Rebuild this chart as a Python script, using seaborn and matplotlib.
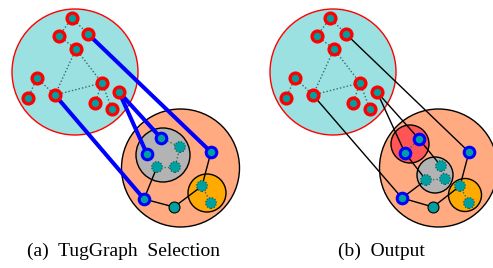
import numpy as np
import pandas as pd
import matplotlib
matplotlib.use("Agg")
import matplotlib.pyplot as plt
from matplotlib.patches import Circle
import seaborn as sns

# ---- data (pixel coordinates) ----
# query graph nodes (red rings), panel (a); panel (b) is the same graph shifted right
top_x = [72, 59, 88, 76, 37, 28, 55, 102, 119, 95, 112]
top_y = [18, 36, 34, 49, 78, 98, 95, 83, 92, 103, 109]
top_edges = [(0, 1), (0, 2), (1, 3), (3, 6), (3, 7), (6, 7), (4, 6), (4, 5), (7, 9), (7, 10)]
shift_b = 258

# lower graph, panel (a)
a_blue_x = [161, 147, 211, 144]
a_blue_y = [138, 154, 152, 199]
a_gray_x = [180, 157, 175]
a_gray_y = [147, 167, 167]
a_yel_x = [202, 211]
a_yel_y = [186, 203]
a_plain_x = [174]
a_plain_y = [207]

# lower graph, panel (b)
b_blue_x = [419, 405, 469, 402]
b_blue_y = [139, 153, 152, 198]
b_gray_x = [441, 426, 445]
b_gray_y = [166, 180, 179]
b_yel_x = [460, 469]
b_yel_y = [186, 203]
b_plain_x = [433]
b_plain_y = [207]

# links from query nodes to blue nodes: (top index, blue index)
links = [(2, 2), (6, 3), (8, 0), (8, 1)]

# group circles: (cx, cy, r, face, edge)
circles_a = [(75, 72, 63, "#9be1e1", "#ff0000"),
             (180.5, 168, 59, "#ffaa80", "black"),
             (163, 155, 27, "#b3b3b3", "black"),
             (207, 193, 19, "#ffaa00", "black")]
circles_b = [(333, 72, 63, "#9be1e1", "#ff0000"),
             (438.5, 168, 59, "#ffaa80", "black"),
             (410, 144, 19, "#ff5555", "black"),
             (435, 175, 18, "#b3b3b3", "black"),
             (465, 195, 16.5, "#ffaa00", "black")]

captions = ["(a)  TugGraph  Selection", "(b)  Output"]
caption_x = [123.5, 381.5]

teal = "#00a0a0"

sns.set_theme(style="white")
fig = plt.figure(figsize=(4.93, 2.68), dpi=100)
ax = fig.add_axes([0, 0, 1, 1])
ax.set_xlim(0, 493)
ax.set_ylim(268, 0)
ax.axis("off")


def draw_panel(ax, circles, tx, bx, by, gx, gy, yx, yy, px, py, link_style, solid, dotted):
    for cx, cy, r, fc, ec in circles:
        ax.add_patch(Circle((cx, cy), r, facecolor=fc, edgecolor=ec, lw=1.0, zorder=1))
    # dotted edges inside the query graph
    for i, j in top_edges:
        ax.plot([tx[i], tx[j]], [top_y[i], top_y[j]], ls=(0, (1, 1.5)), color="#3a6a6a", lw=1.0, zorder=2)
    # lower graph edges
    allx = {"b": bx, "g": gx, "y": yx, "p": px}
    ally = {"b": by, "g": gy, "y": yy, "p": py}
    for (k1, i), (k2, j) in solid:
        ax.plot([allx[k1][i], allx[k2][j]], [ally[k1][i], ally[k2][j]], color="black", lw=1.0, zorder=2)
    for (k1, i), (k2, j) in dotted:
        ax.plot([allx[k1][i], allx[k2][j]], [ally[k1][i], ally[k2][j]], ls=(0, (1, 1.5)),
                color="#3a6a6a", lw=1.0, zorder=2)
    # links
    for i, j in links:
        ax.plot([tx[i], bx[j]], [top_y[i], by[j]], zorder=3, **link_style)
    # nodes
    sns.scatterplot(x=tx, y=top_y, ax=ax, s=60, color=teal, edgecolor="#ff0000", linewidth=2.4, zorder=5)
    sns.scatterplot(x=bx, y=by, ax=ax, s=58, color=teal, edgecolor="#0000ff", linewidth=2.2, zorder=5)
    sns.scatterplot(x=gx, y=gy, ax=ax, s=60, color=teal, edgecolor="#1a4a4a", linewidth=0.8,
                    linestyle=":", zorder=5)
    sns.scatterplot(x=yx, y=yy, ax=ax, s=60, color=teal, edgecolor="#1a4a4a", linewidth=0.8,
                    linestyle=":", zorder=5)
    sns.scatterplot(x=px, y=py, ax=ax, s=62, color=teal, edgecolor="black", linewidth=0.8, zorder=5)


solid_a = [(("b", 3), ("g", 1)), (("b", 3), ("p", 0)), (("p", 0), ("y", 0)), (("y", 0), ("b", 2))]
dotted_a = [(("b", 0), ("g", 0)), (("g", 0), ("g", 2)), (("g", 1), ("g", 2)), (("y", 0), ("y", 1))]
draw_panel(ax, circles_a, top_x, a_blue_x, a_blue_y, a_gray_x, a_gray_y, a_yel_x, a_yel_y,
           a_plain_x, a_plain_y, dict(color="#0000ff", lw=2.9, solid_capstyle="butt"), solid_a, dotted_a)

solid_b = [(("b", 0), ("g", 0)), (("b", 1), ("g", 1)), (("b", 3), ("g", 1)), (("b", 3), ("p", 0)),
           (("p", 0), ("y", 0)), (("y", 0), ("b", 2))]
dotted_b = [(("b", 0), ("b", 1)), (("g", 0), ("g", 2)), (("g", 1), ("g", 2)), (("y", 0), ("y", 1))]
top_x_b = [x + shift_b for x in top_x]
draw_panel(ax, circles_b, top_x_b, b_blue_x, b_blue_y, b_gray_x, b_gray_y, b_yel_x, b_yel_y,
           b_plain_x, b_plain_y, dict(color="black", lw=1.0), solid_b, dotted_b)

for t, x in zip(captions, caption_x):
    ax.text(x, 251, t, ha="center", va="center", fontsize=14, family="Liberation Serif", color="black")

fig.savefig("out.png", dpi=100)
